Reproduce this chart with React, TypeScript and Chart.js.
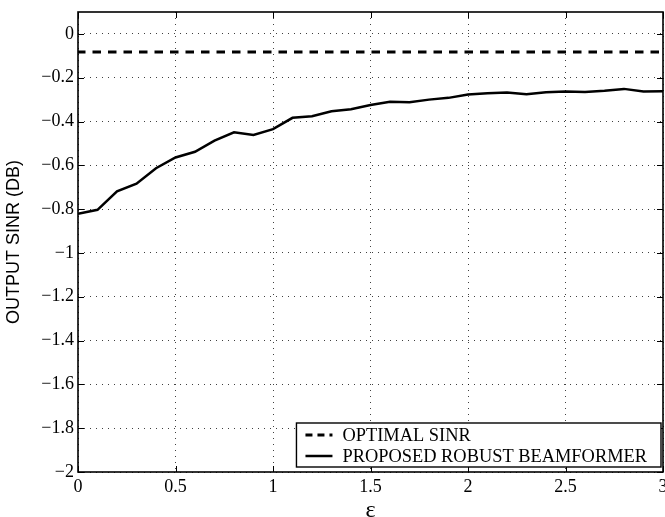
import { useEffect, useRef } from 'react';
import { Chart, registerables } from 'chart.js';

Chart.register(...registerables);

// Uncertainty bound epsilon (x axis)
const EPSILON = [
  0, 0.1, 0.2, 0.3, 0.4, 0.5, 0.6, 0.7, 0.8, 0.9, 1.0,
  1.1, 1.2, 1.3, 1.4, 1.5, 1.6, 1.7, 1.8, 1.9, 2.0,
  2.1, 2.2, 2.3, 2.4, 2.5, 2.6, 2.7, 2.8, 2.9, 3.0,
];

// Output SINR (dB) of the optimal beamformer (constant reference level)
const OPTIMAL_SINR = -0.083;

// Output SINR (dB) of the proposed robust beamformer
const ROBUST_SINR = [
  -0.821, -0.803, -0.719, -0.684, -0.613, -0.564, -0.538, -0.487, -0.449, -0.461, -0.435,
  -0.383, -0.376, -0.353, -0.344, -0.325, -0.31, -0.312, -0.3, -0.292, -0.277,
  -0.271, -0.268, -0.275, -0.266, -0.263, -0.265, -0.26, -0.251, -0.263, -0.262,
];

const SERIES_LABELS = ['OPTIMAL SINR', 'PROPOSED ROBUST BEAMFORMER'];

const X_TICKS = [0, 0.5, 1, 1.5, 2, 2.5, 3];
const Y_TICKS = [0, -0.2, -0.4, -0.6, -0.8, -1, -1.2, -1.4, -1.6, -1.8, -2];
const X_RANGE = [0, 3];
const Y_RANGE = [-2, 0.1];

const SERIF = "'Liberation Serif', 'Times New Roman', serif";
const SANS = "'Liberation Sans', Arial, sans-serif";

const fmtTick = (v: number) => (v < 0 ? '\u2212' + String(Math.abs(v)) : String(v));

// Draws the closed axes box, inward tick marks and the boxed legend
const framePlugin = {
  id: 'frameAndLegend',
  afterDraw(chart: any) {
    const { ctx, chartArea: a, scales } = chart;
    const xs = scales.x;
    const ys = scales.y;
    ctx.save();

    // inward tick marks on all four sides
    ctx.strokeStyle = '#000';
    ctx.lineWidth = 1;
    const tl = 6;
    ctx.beginPath();
    X_TICKS.forEach((v) => {
      const px = Math.round(xs.getPixelForValue(v)) + 0.5;
      ctx.moveTo(px, a.bottom);
      ctx.lineTo(px, a.bottom - tl);
      ctx.moveTo(px, a.top);
      ctx.lineTo(px, a.top + tl);
    });
    Y_TICKS.forEach((v) => {
      const py = Math.round(ys.getPixelForValue(v)) + 0.5;
      ctx.moveTo(a.left, py);
      ctx.lineTo(a.left + tl, py);
      ctx.moveTo(a.right, py);
      ctx.lineTo(a.right - tl, py);
    });
    ctx.stroke();

    // axes box
    ctx.lineWidth = 1.6;
    ctx.strokeRect(a.left, a.top, a.right - a.left, a.bottom - a.top);

    // legend
    ctx.font = `18.4px ${SERIF}`;
    const widths = chart.data.datasets.map((d: any) => ctx.measureText(d.label).width);
    const textW = Math.max(...widths);
    const boxW = 46 + textW + 14;
    const boxH = 44;
    const bx = a.right - 2 - boxW;
    const by = a.bottom - 5 - boxH;
    ctx.fillStyle = '#fff';
    ctx.fillRect(bx, by, boxW, boxH);
    ctx.lineWidth = 1.4;
    ctx.strokeStyle = '#000';
    ctx.strokeRect(bx, by, boxW, boxH);

    chart.data.datasets.forEach((d: any, i: number) => {
      const cy = by + 12 + i * 21;
      ctx.beginPath();
      ctx.lineWidth = d.borderWidth;
      ctx.setLineDash(d.borderDash && d.borderDash.length ? [7, 5] : []);
      ctx.moveTo(bx + 9, cy);
      ctx.lineTo(bx + 36, cy);
      ctx.stroke();
      ctx.setLineDash([]);
      ctx.fillStyle = '#000';
      ctx.textAlign = 'left';
      ctx.textBaseline = 'middle';
      ctx.fillText(d.label, bx + 46, cy + 1);
    });

    ctx.restore();
  },
};

export default function App() {
  const canvasRef = useRef<HTMLCanvasElement | null>(null);

  useEffect(() => {
    const canvas = canvasRef.current;
    if (!canvas) return;

    const chart = new Chart(canvas, {
      type: 'line',
      data: {
        datasets: [
          {
            label: SERIES_LABELS[0],
            data: EPSILON.map((e) => ({ x: e, y: OPTIMAL_SINR })),
            borderColor: '#000',
            borderWidth: 3,
            borderDash: [8.5, 7],
            borderDashOffset: 1,
            pointRadius: 0,
            tension: 0,
            fill: false,
          },
          {
            label: SERIES_LABELS[1],
            data: EPSILON.map((e, i) => ({ x: e, y: ROBUST_SINR[i] })),
            borderColor: '#000',
            borderWidth: 2.5,
            pointRadius: 0,
            tension: 0,
            fill: false,
          },
        ],
      },
      options: {
        responsive: false,
        animation: false,
        devicePixelRatio: 1,
        layout: { padding: { left: 0, top: 12, right: 2, bottom: 0 } },
        plugins: {
          legend: { display: false },
          tooltip: { enabled: false },
        },
        scales: {
          x: {
            type: 'linear',
            min: X_RANGE[0],
            max: X_RANGE[1],
            afterBuildTicks: (s: any) => {
              s.ticks = X_TICKS.map((v) => ({ value: v }));
            },
            afterFit: (s: any) => {
              s.height = 45;
              s.paddingLeft = 0;
              s.paddingRight = 0;
            },
            ticks: {
              autoSkip: false,
              maxRotation: 0,
              padding: 4,
              color: '#000',
              font: { family: SERIF, size: 18 },
              callback: (v: any) => fmtTick(Number(v)),
            },
            grid: {
              color: 'rgba(0,0,0,0.75)',
              lineWidth: 1,
              drawTicks: false,
            },
            border: { display: false, dash: [1, 5] },
            title: {
              display: true,
              text: '\u03b5',
              color: '#000',
              font: { family: SERIF, size: 24, lineHeight: 0.55 },
              padding: { top: 0, bottom: 0 },
            },
          },
          y: {
            type: 'linear',
            min: Y_RANGE[0],
            max: Y_RANGE[1],
            afterBuildTicks: (s: any) => {
              s.ticks = Y_TICKS.map((v) => ({ value: v }));
            },
            afterFit: (s: any) => {
              s.width = 78;
              s.paddingTop = 0;
              s.paddingBottom = 0;
            },
            ticks: {
              autoSkip: false,
              padding: 4,
              color: '#000',
              font: { family: SERIF, size: 18 },
              callback: (v: any) => fmtTick(Number(v)),
            },
            grid: {
              color: 'rgba(0,0,0,0.75)',
              lineWidth: 1,
              drawTicks: false,
            },
            border: { display: false, dash: [1, 5] },
            title: {
              display: true,
              text: 'OUTPUT SINR (DB)',
              color: '#000',
              font: { family: SANS, size: 18 },
              padding: { top: 3, bottom: 0 },
            },
          },
        },
      },
      plugins: [framePlugin],
    } as any);

    return () => chart.destroy();
  }, []);

  return (
    <div style={{ position: 'absolute', left: 0, top: 0, width: 665, height: 517, background: '#fff' }}>
      <canvas ref={canvasRef} width={665} height={517} style={{ display: 'block' }} />
    </div>
  );
}
